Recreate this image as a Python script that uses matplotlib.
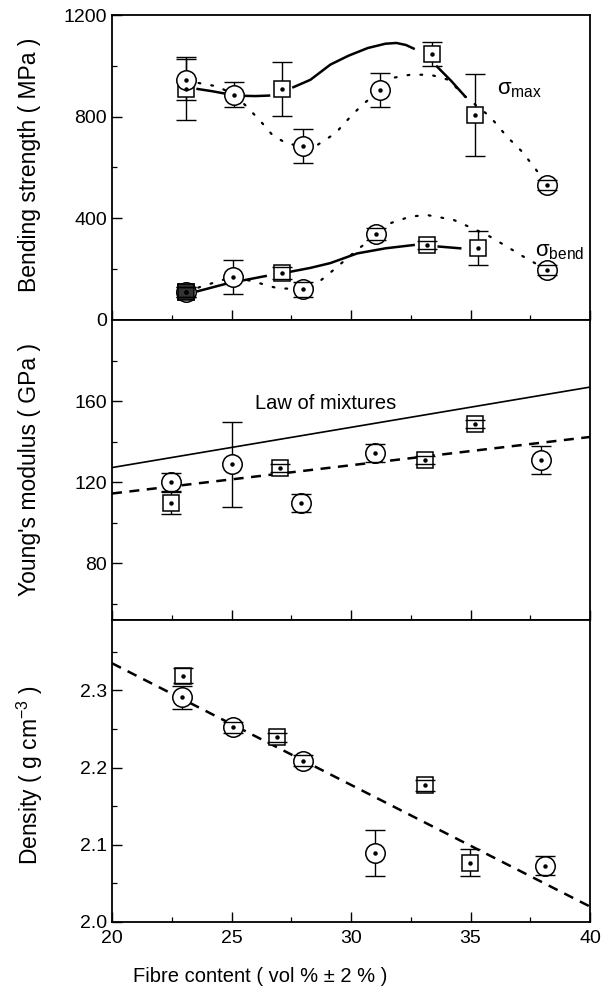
import matplotlib
matplotlib.use("Agg")
import matplotlib.pyplot as plt
from matplotlib.ticker import MultipleLocator, FixedLocator
from matplotlib import font_manager

# ---------------- data ----------------
# Top panel: sigma_max
smax_sq_x = [23.1, 27.1, 33.4, 35.2]
smax_sq_y = [910, 910, 1047, 807]
smax_sq_err = [125, 107, 48, 162]
smax_ci_x = [23.1, 25.1, 28.0, 31.2, 38.2]
smax_ci_y = [945, 887, 685, 905, 531]
smax_ci_err = [80, 50, 67, 67, 20]

# Top panel: sigma_bend
sb_sq_x = [23.1, 27.1, 33.2, 35.3]
sb_sq_y = [111, 185, 295, 283]
sb_sq_err = [20, 25, 15, 66]
sb_ci_x = [23.1, 25.05, 28.0, 31.05, 38.2]
sb_ci_y = [111, 170, 121, 338, 197]
sb_ci_err = [20, 68, 30, 25, 20]

# trend curves
smax_solid1_x = [23.58, 24.2, 24.83, 25.53, 26.0, 26.57]
smax_solid1_y = [909, 900, 889, 882, 881, 883]
smax_solid2_x = [27.59, 28.3, 29.14, 29.9, 30.7, 31.44, 31.9, 32.3, 32.62]
smax_solid2_y = [916, 945, 1005, 1040, 1070, 1087, 1090, 1082, 1068]
smax_solid3_x = [33.6, 34.2, 34.78]
smax_solid3_y = [997, 940, 879]
smax_dot_x = [23.1, 23.65, 24.41, 25.1, 25.67, 26.29, 26.71, 27.33, 28.0, 28.6, 29.35,
              29.98, 30.4, 31.2, 31.65, 32.48, 33.32, 34.08, 34.78, 35.82, 36.52, 37.15,
              37.70, 38.2]
smax_dot_y = [945, 932, 919, 887, 837, 774, 728, 693, 685, 689, 735,
              800, 840, 905, 951, 965, 965, 945, 879, 800, 722, 663,
              597, 531]

sb_solid1_x = [23.5, 24.83, 26.43]
sb_solid1_y = [111, 144, 173]
sb_solid2_x = [27.47, 28.3, 29.14, 30.26, 31.44, 32.62]
sb_solid2_y = [190, 205, 224, 262, 282, 295]
sb_solid3_x = [33.67, 34.57]
sb_solid3_y = [289, 282]
sb_dot_x = [23.1, 23.72, 24.27, 25.05, 25.94, 26.92, 28.0, 28.45, 29.27, 30.33, 31.05,
            31.65, 32.07, 32.48, 33.18, 34.29, 35.69, 36.52, 37.22, 38.2]
sb_dot_y = [111, 131, 147, 170, 151, 125, 121, 134, 197, 282, 330,
            381, 394, 407, 413, 394, 335, 289, 249, 197]

# Middle panel: Young's modulus
ym_ci_x = [22.46, 25.04, 27.89, 31.02, 37.94]
ym_ci_y = [120.1, 128.8, 109.7, 134.3, 131.0]
ym_ci_err = [4.5, 21, 4.5, 4.5, 7]
ym_sq_x = [22.46, 27.01, 33.11, 35.17]
ym_sq_y = [109.7, 127.2, 131.0, 148.5]
ym_sq_err = [5.5, 2, 2, 2]
lom_x = [20, 40]
lom_y = [127.2, 166.9]
ymfit_x = [20, 40]
ymfit_y = [114.4, 142.3]

# Bottom panel: density
d_sq_x = [22.95, 26.92, 33.08, 34.99]
d_sq_y = [2.319, 2.239, 2.177, 2.077]
d_sq_err = [0.010, 0.006, 0.007, 0.017]
d_ci_x = [22.92, 25.08, 28.0, 31.0, 38.12]
d_ci_y = [2.291, 2.252, 2.209, 2.089, 2.073]
d_ci_err = [0.015, 0.007, 0.007, 0.030, 0.012]
dfit_x = [20, 40]
dfit_y = [2.335, 2.02]

x_ticks = [20, 25, 30, 35, 40]

# ---------------- style ----------------
avail = {f.name for f in font_manager.fontManager.ttflist}
base_font = 'Liberation Sans' if 'Liberation Sans' in avail else 'DejaVu Sans'
narrow_font = 'Liberation Sans Narrow' if 'Liberation Sans Narrow' in avail else base_font
plt.rcParams['font.family'] = [base_font, 'DejaVu Sans']
plt.rcParams['mathtext.fontset'] = 'custom'
plt.rcParams['mathtext.rm'] = base_font
plt.rcParams['mathtext.it'] = base_font

fig = plt.figure(figsize=(6.01, 9.94), dpi=100)
L, W = 112 / 601, 478 / 601
ax1 = fig.add_axes([L, 1 - 320 / 994, W, 305 / 994])
ax2 = fig.add_axes([L, 1 - 620 / 994, W, 300 / 994])
ax3 = fig.add_axes([L, 1 - 922 / 994, W, 302 / 994])

CIRC_MS = 14
SQ_MS = 11


def points(ax, x, y, err, marker, ms):
    eb = ax.errorbar(x, y, yerr=err, fmt='none', ecolor='black', elinewidth=1.0,
                     capsize=7, capthick=1.0, zorder=2)
    for c in eb[1]:
        c.set_zorder(4)
    ax.plot(x, y, linestyle='none', marker=marker, ms=ms, mfc='white', mec='black',
            mew=1.1, zorder=3)
    ax.plot(x, y, linestyle='none', marker='o', ms=2.2, mfc='black', mec='black',
            zorder=5)


for ax in (ax1, ax2, ax3):
    ax.set_xlim(20, 40)
    ax.xaxis.set_major_locator(FixedLocator(x_ticks))
    ax.xaxis.set_minor_locator(MultipleLocator(2.5))
    ax.tick_params(which='major', direction='in', length=7, width=1.0, labelsize=14,
                   top=False, right=False)
    ax.tick_params(which='minor', direction='in', length=3.5, width=0.9,
                   top=False, right=False)
    for s in ax.spines.values():
        s.set_linewidth(1.3)

# ---- top ----
dotted = dict(color='black', lw=1.6, linestyle=(0, (0.8, 5.0)), dash_capstyle='round')
ax1.plot(smax_dot_x, smax_dot_y, **dotted, zorder=1)
ax1.plot(sb_dot_x, sb_dot_y, **dotted, zorder=1)
for xs, ys in [(smax_solid1_x, smax_solid1_y), (smax_solid2_x, smax_solid2_y),
               (smax_solid3_x, smax_solid3_y), (sb_solid1_x, sb_solid1_y),
               (sb_solid2_x, sb_solid2_y), (sb_solid3_x, sb_solid3_y)]:
    ax1.plot(xs, ys, color='black', lw=1.8, zorder=1)
points(ax1, smax_sq_x, smax_sq_y, smax_sq_err, 's', SQ_MS)
points(ax1, smax_ci_x, smax_ci_y, smax_ci_err, 'o', CIRC_MS)
points(ax1, sb_sq_x, sb_sq_y, sb_sq_err, 's', SQ_MS)
points(ax1, sb_ci_x, sb_ci_y, sb_ci_err, 'o', CIRC_MS)
# heavy overlapping marker at the first sigma_bend position
ax1.plot(sb_sq_x[:1], sb_sq_y[:1], linestyle='none', marker='s', ms=SQ_MS, mfc='0.2',
         mec='black', mew=1.1, zorder=3.5)
ax1.set_ylim(0, 1200)
ax1.yaxis.set_major_locator(MultipleLocator(400))
ax1.yaxis.set_minor_locator(MultipleLocator(200))
ax1.set_xticklabels([])
ax1.text(36.1, 905, r'$\sigma_{\rm max}$', fontsize=16, va='center', ha='left')
ax1.text(37.7, 269, r'$\sigma_{\rm bend}$', fontsize=16, va='center', ha='left')

# ---- middle ----
ax2.plot(lom_x, lom_y, color='black', lw=1.2, zorder=1)
ax2.plot(ymfit_x, ymfit_y, color='black', lw=1.8, linestyle=(0, (4, 3)), zorder=1)
points(ax2, ym_sq_x, ym_sq_y, ym_sq_err, 's', SQ_MS)
points(ax2, ym_ci_x, ym_ci_y, ym_ci_err, 'o', CIRC_MS)
ax2.set_ylim(52, 200)
ax2.yaxis.set_major_locator(FixedLocator([80, 120, 160]))
ax2.yaxis.set_minor_locator(FixedLocator([60, 100, 140, 180]))
ax2.set_xticklabels([])
ax2.text(26.0, 159, 'Law of mixtures', fontsize=14.5, va='center', ha='left')

# ---- bottom ----
ax3.plot(dfit_x, dfit_y, color='black', lw=1.8, linestyle=(0, (4, 3)), zorder=1)
points(ax3, d_sq_x, d_sq_y, d_sq_err, 's', SQ_MS)
points(ax3, d_ci_x, d_ci_y, d_ci_err, 'o', CIRC_MS)
ax3.set_ylim(2.0, 2.391)
ax3.yaxis.set_major_locator(FixedLocator([2.0, 2.1, 2.2, 2.3]))
ax3.yaxis.set_minor_locator(FixedLocator([2.05, 2.15, 2.25, 2.35]))
ax3.set_yticklabels(['2.0', '2.1', '2.2', '2.3'])
ax3.set_xticklabels([str(t) for t in x_ticks])
ax3.tick_params(axis='x', pad=6)

fig.text(260 / 601, 1 - 976 / 994, 'Fibre content ( vol % \u00b1 2 % )',
         fontsize=14.5, ha='center', va='center')

lab = dict(rotation=90, ha='center', va='center', fontsize=16.5,
           family=[narrow_font, 'DejaVu Sans'])
fig.text(30 / 601, 1 - 165 / 994, 'Bending strength ( MPa )', **lab)
fig.text(30 / 601, 1 - 470 / 994, "Young's modulus ( GPa )", **lab)
fig.text(30 / 601, 1 - 775 / 994, r'Density ( g cm$^{-3}$ )', **lab)

fig.savefig('out.png', dpi=100)
